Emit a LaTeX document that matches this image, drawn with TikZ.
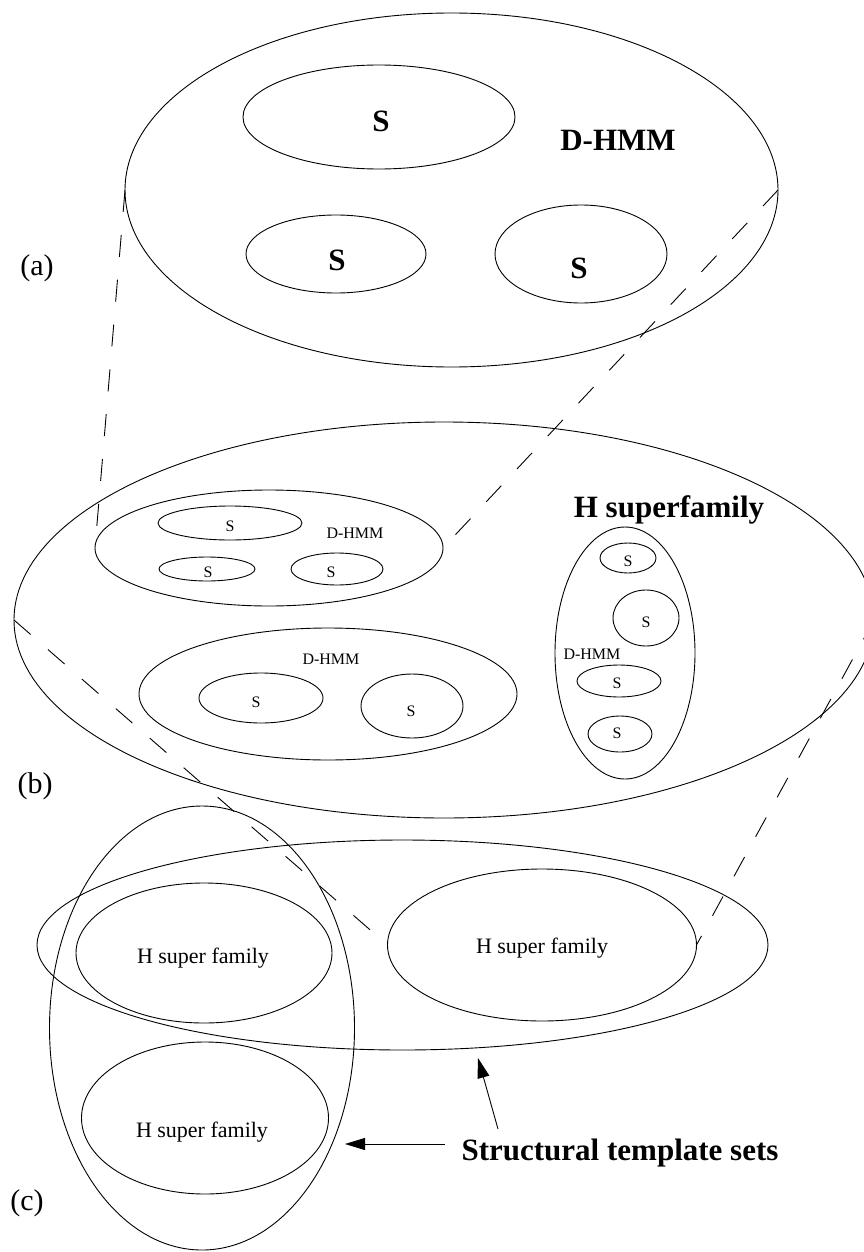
\documentclass[tikz,border=0pt]{standalone}
\usepackage{fontspec}
\setmainfont{Liberation Serif}
\usetikzlibrary{shapes.geometric,arrows.meta}
\begin{document}
\begin{tikzpicture}[x=1pt,y=-1pt,
  ell/.style 2 args={draw,ellipse,inner sep=0pt,outer sep=0pt,line width=0.9pt,minimum width=#1,minimum height=#2},
  txt/.style={anchor=base,inner sep=0pt,outer sep=0pt},
  bigb/.style={txt,font=\fontsize{31}{36}\selectfont\bfseries},
  sm/.style={txt,font=\fontsize{16}{19}\selectfont},
  mid/.style={txt,font=\fontsize{22}{26}\selectfont},
  lab/.style={txt,font=\fontsize{30}{34}\selectfont},
  dsh/.style={line width=0.9pt,dash pattern=on 22pt off 23pt},
  arr/.style={line width=0.9pt,-{Triangle[length=20pt,width=12pt]}}]
\useasboundingbox (0,0) rectangle (863,1252);
% (a)
\node[ell={653pt}{354pt}] (A) at (451.5,190) {};
\node[ell={272pt}{104pt}] (A1) at (379,117) {};
\node[ell={180pt}{78pt}] (A2) at (336,254) {};
\node[ell={172pt}{98pt}] (A3) at (581,254) {};
\node[bigb] (tA1) at (381,132) {S};
\node[bigb] (tA2) at (337,270) {S};
\node[bigb] (tA3) at (579,278) {S};
\node[bigb] (tA) at (618,151) {D-HMM};
\node[lab] (la) at (37,275) {(a)};
% (b)
\node[ell={860pt}{396pt}] (B) at (444,620) {};
\node[ell={348pt}{116pt}] (B1) at (269,548) {};
\node[ell={144pt}{34pt}] (B1a) at (230,523) {};
\node[ell={96pt}{24pt}] (B1b) at (207,569) {};
\node[ell={92pt}{32pt}] (B1c) at (337,569) {};
\node[sm] (tB1a) at (230,531) {S};
\node[sm] (tB1b) at (208,577) {S};
\node[sm] (tB1c) at (331,577) {S};
\node[sm] (tB1) at (355,538) {D-HMM};
\node[ell={378pt}{132pt}] (B2) at (328,694) {};
\node[ell={124pt}{50pt}] (B2a) at (261,698) {};
\node[ell={102pt}{64pt}] (B2b) at (412,706) {};
\node[sm] (tB2) at (331,664) {D-HMM};
\node[sm] (tB2a) at (256,707) {S};
\node[sm] (tB2b) at (411,716) {S};
\node[ell={140pt}{252pt}] (B3) at (625,653) {};
\node[ell={56pt}{30pt}] (B3a) at (628,558) {};
\node[ell={66pt}{56pt}] (B3b) at (646,618) {};
\node[ell={84pt}{32pt}] (B3c) at (619,681) {};
\node[ell={64pt}{36pt}] (B3d) at (620,734) {};
\node[sm] (tB3a) at (628,566) {S};
\node[sm] (tB3b) at (646,627) {S};
\node[sm] (tB3) at (592,659) {D-HMM};
\node[sm] (tB3c) at (617,688) {S};
\node[sm] (tB3d) at (617,738) {S};
\node[bigb] (tB) at (669,517) {H superfamily};
\node[lab] (lb) at (35,793) {(b)};
% (c)
\node[ell={731pt}{210pt}] (C) at (402.5,945) {};
\node[ell={305pt}{444pt}] (Cv) at (202,1028) {};
\node[ell={256pt}{140pt}] (C1) at (204,953) {};
\node[ell={309pt}{152pt}] (C2) at (542,945) {};
\node[ell={247pt}{152pt}] (C3) at (205,1118) {};
\node[mid] (tC1) at (203,963) {H super family};
\node[mid] (tC2) at (542,953) {H super family};
\node[mid] (tC3) at (202,1137) {H super family};
\node[lab] (lc) at (27,1210) {(c)};
\node[bigb] (st) at (620,1160) {Structural template sets};
% dashed connectors
\draw[dsh] (A.west) -- (B1.west);
\draw[dsh] (A.east) -- (B1.east);
\draw[dsh] (B.west) -- (C2.west);
\draw[dsh] (B.east) -- (C2.east);
% arrows
\coordinate (s1) at (498,1129);
\coordinate (e1) at (478,1058);
\coordinate (s2) at (445,1144);
\coordinate (e2) at (345,1144);
\draw[arr] (s1) -- (e1);
\draw[arr] (s2) -- (e2);
\end{tikzpicture}
\end{document}
